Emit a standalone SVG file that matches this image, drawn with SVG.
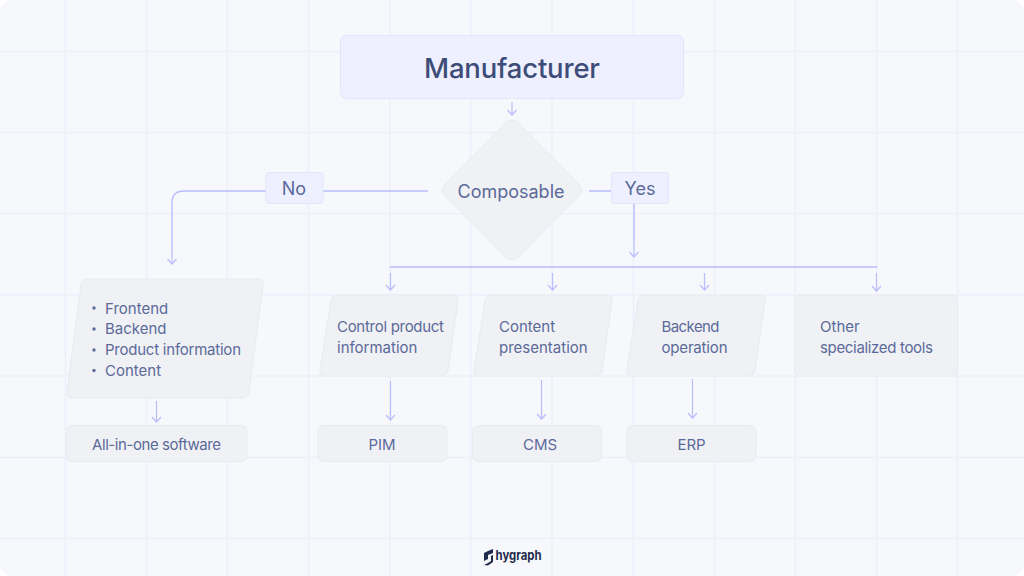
<svg xmlns="http://www.w3.org/2000/svg" width="1024" height="576" viewBox="0 0 1024 576">
<defs>
<marker id="arrow" markerUnits="userSpaceOnUse" markerWidth="10" markerHeight="12" refX="7" refY="6" orient="auto" viewBox="0 0 10 12"><path d="M2 1.500L7 6L2 10.500" fill="none" stroke="#b9bdfb" stroke-width="1.2"/></marker>
</defs>
<style>
text{font-family:Inter,"Noto Sans","Liberation Sans",sans-serif;fill:#5b6a99;font-size:15px}
.grid path{stroke:#eeeffb;stroke-width:1.5;fill:none}
.lav{fill:#eef0ff;stroke:#e2e5fd;stroke-width:1}
.gray{fill:#f0f1f5;stroke:#e9eaf1;stroke-width:1}
.c{stroke:#b9bdfb;stroke-width:1.4;fill:none}
.down{stroke:#b9bdfb;stroke-width:1.2;fill:none}
.m{text-anchor:middle}
</style>
<rect width="1024" height="576" fill="#ffffff"/>
<rect width="1024" height="576" rx="12" fill="#f7f8fb"/>
<g class="grid"><path d="M65.5 0V576M146.5 0V576M227.5 0V576M308.5 0V576M390 0V576M471 0V576M552 0V576M633.500 0V576M714.500 0V576M795.500 0V576M876.500 0V576M957.500 0V576M0 51.500H1024M0 132.500H1024M0 213.500H1024M0 295H1024M0 376H1024M0 457.500H1024M0 538.500H1024"/></g>
<g id="connectors">
<path class="c" d="M428 191H184Q172 191 172 203V250"/>
<path class="c" d="M589 191H634V240"/>
<path class="c" d="M390 267H877.500"/>
<path class="down" marker-end="url(#arrow)" d="M512 102V115"/>
<path class="down" marker-end="url(#arrow)" d="M172 250V264"/>
<path class="down" marker-end="url(#arrow)" d="M634 240V257"/>
<path class="down" marker-end="url(#arrow)" d="M390.500 273V290"/>
<path class="down" marker-end="url(#arrow)" d="M552.500 273V290"/>
<path class="down" marker-end="url(#arrow)" d="M704.500 273V290"/>
<path class="down" marker-end="url(#arrow)" d="M876.500 273V291"/>
<path class="down" marker-end="url(#arrow)" d="M156.500 401V422"/>
<path class="down" marker-end="url(#arrow)" d="M390.500 381V420"/>
<path class="down" marker-end="url(#arrow)" d="M541.500 380V419"/>
<path class="down" marker-end="url(#arrow)" d="M692.500 379V418"/>
</g>
<g id="manufacturer"><rect class="lav" x="340.500" y="35.500" width="343" height="63" rx="6"/><text x="424" y="78" textLength="176" style="font-size:27.500px;font-weight:500;fill:#3d4c78">Manufacturer</text></g>
<g id="composable"><path class="gray" d="M505 123.500Q512 116.500 519 123.500L578 183Q585 190 578 197L519 256.500Q512 263.500 505 256.500L446 197Q439 190 446 183Z"/><text class="m" x="511" y="198" style="font-size:18px">Composable</text></g>
<g id="no"><rect class="lav" x="266" y="172.500" width="57" height="31" rx="3"/><text class="m" x="294" y="195" style="font-size:18px">No</text></g>
<g id="yes"><rect class="lav" x="611.500" y="172.500" width="57" height="31" rx="3"/><text class="m" x="640" y="195" style="font-size:18px">Yes</text></g>
<g id="list"><path class="gray" d="M87 279H258Q264 279 263 285L249 392Q248 398 242 398H73Q66 398 67 392L81 285Q82 279 87 279Z"/>
<circle cx="94" cy="308" r="1.700" fill="#5b6a99"/><circle cx="94" cy="329" r="1.700" fill="#5b6a99"/><circle cx="94" cy="350" r="1.700" fill="#5b6a99"/><circle cx="94" cy="370.500" r="1.700" fill="#5b6a99"/>
<text x="105" y="313.500">Frontend</text><text x="105" y="334">Backend</text><text x="105" y="355" textLength="136">Product information</text><text x="105" y="375.500">Content</text></g>
<g id="all-in-one"><rect class="gray" x="66" y="425.500" width="181" height="36" rx="6"/><text x="92" y="450" textLength="129">All-in-one software</text></g>
<g id="control"><path class="gray" d="M337 295H453Q459 295 458 301L448 370Q447 376 441 376H326Q319 376 320 370L331 301Q332 295 337 295Z"/><text x="337" y="331.500" textLength="107">Control product</text><text x="337" y="352.500">information</text></g>
<g id="content"><path class="gray" d="M491 295H607Q613 295 612 301L602 370Q601 376 595 376H480Q473 376 474 370L485 301Q486 295 491 295Z"/><text x="499" y="331.500">Content</text><text x="499" y="352.500">presentation</text></g>
<g id="backend"><path class="gray" d="M644 295H760Q766 295 765 301L755 370Q754 376 748 376H633Q626 376 627 370L638 301Q639 295 644 295Z"/><text x="661.500" y="331.500" textLength="58">Backend</text><text x="661.500" y="352.500" textLength="66">operation</text></g>
<g id="other"><rect class="gray" x="794.500" y="295" width="163" height="81" rx="6"/><text x="820" y="331.500">Other</text><text x="820" y="352.500" textLength="113">specialized tools</text></g>
<g id="pim"><rect class="gray" x="318" y="425.500" width="129" height="36" rx="6"/><text class="m" x="382" y="450">PIM</text></g>
<g id="cms"><rect class="gray" x="472.500" y="425.500" width="129" height="36" rx="6"/><text class="m" x="540" y="450">CMS</text></g>
<g id="erp"><rect class="gray" x="627" y="425.500" width="129" height="36" rx="6"/><text class="m" x="691.500" y="450">ERP</text></g>
<g id="logo"><path d="M484 553L488 551V559L484 561ZM488 551L493 549V553L488 555ZM484 565L488 563L491 561V556L493 555V562L488 565.500L484 565Z" fill="#1f2a4d"/><text x="495.500" y="560" style="font-size:13px;font-weight:700;fill:#1f2a4d" textLength="46" lengthAdjust="spacingAndGlyphs">hygraph</text></g>
</svg>
